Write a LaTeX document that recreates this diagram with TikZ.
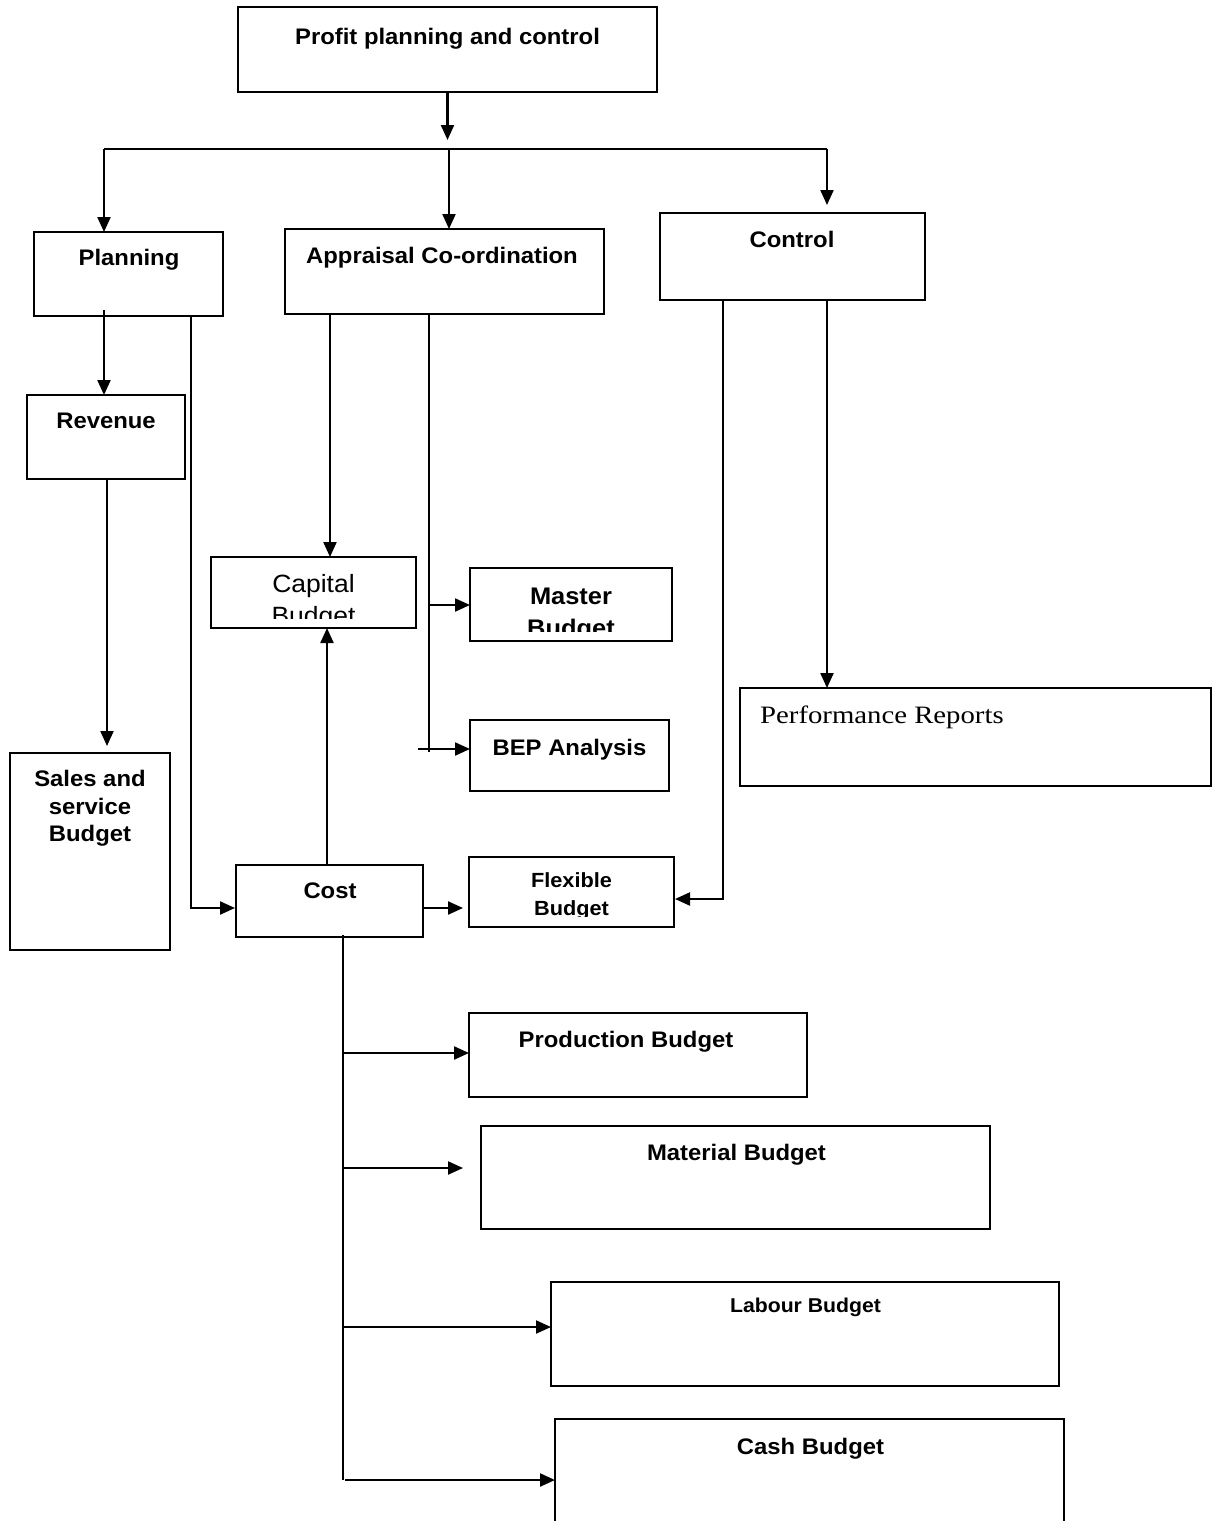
\documentclass[tikz,border=0pt]{standalone}
\usepackage{fontspec}
\setmainfont{Liberation Sans}[FakeStretch=1.06]
\newfontfamily\timesf{Liberation Serif}[FakeStretch=1.15]
\usetikzlibrary{arrows.meta,fit}
\begin{document}
\begin{tikzpicture}[x=1pt,y=-1pt,
  box/.style={draw,line width=2.2pt,inner sep=0pt,outer sep=0pt,rectangle},
  lbl/.style={anchor=base,inner sep=0pt,font=\fontsize{22.5}{27}\selectfont\bfseries},
  lblsmall/.style={anchor=base,inner sep=0pt,font=\fontsize{20}{24}\selectfont\bfseries},
  lblmid/.style={anchor=base,inner sep=0pt,font=\fontsize{20.5}{24}\selectfont\bfseries},
  lblbig/.style={anchor=base,inner sep=0pt,font=\fontsize{24}{28}\selectfont\bfseries},
  lblreg/.style={anchor=base,inner sep=0pt,font=\fontsize{25}{30}\selectfont},
  conn/.style={line width=2.2pt},
  arr/.style={line width=2.2pt,-{Triangle[length=15pt,width=13pt]}}]
\useasboundingbox (0,0) rectangle (1219,1521);

% boxes
\node[box,fit={(238,7) (657,92)}] (top) {};
\node[box,fit={(34,232) (223,316)}] (plan) {};
\node[box,fit={(285,229) (604,314)}] (appr) {};
\node[box,fit={(660,213) (925,300)}] (ctrl) {};
\node[box,fit={(27,395) (185,479)}] (rev) {};
\node[box,fit={(211,557) (416,628)}] (cap) {};
\node[box,fit={(470,568) (672,641)}] (mas) {};
\node[box,fit={(470,720) (669,791)}] (bep) {};
\node[box,fit={(740,688) (1211,786)}] (perf) {};
\node[box,fit={(10,753) (170,950)}] (sales) {};
\node[box,fit={(236,865) (423,937)}] (cost) {};
\node[box,fit={(469,857) (674,927)}] (flex) {};
\node[box,fit={(469,1013) (807,1097)}] (prod) {};
\node[box,fit={(481,1126) (990,1229)}] (mat) {};
\node[box,fit={(551,1282) (1059,1386)}] (lab) {};
\node[box,fit={(555,1419) (1064,1540)}] (cash) {};

% labels
\node[lbl] (topT) at (447.5,44) {Profit planning and control};
\node[lbl] (planT) at (129,265) {Planning};
\node[lbl] (apprT) at (442,263) {Appraisal Co-ordination};
\node[lbl] (ctrlT) at (792,247) {Control};
\node[lbl] (revT) at (106,428) {Revenue};
\node[lblreg] (capT) at (313.5,592) {Capital};
\begin{scope}
  \clip (211,557) rectangle (416,618);
  \node[lblreg] (capT2) at (313.5,624) {Budget};
\end{scope}
\node[lblbig] (masT) at (571,604) {Master};
\begin{scope}
  \clip (470,568) rectangle (672,631);
  \node[lblbig] (masT2) at (571,636) {Budget};
\end{scope}
\node[lbl] (bepT) at (569.5,755) {BEP Analysis};
\node[anchor=base west,inner sep=0pt,font=\timesf\fontsize{25}{29}\selectfont] (perfT) at (760,723) {Performance Reports};
\node[lbl] (salesT1) at (90,786) {Sales and};
\node[lbl] (salesT2) at (90,814) {service};
\node[lbl] (salesT3) at (90,841) {Budget};
\node[lbl] (costT) at (330,898) {Cost};
\node[lblmid] (flexT) at (571.5,887) {Flexible};
\begin{scope}
  \clip (469,857) rectangle (674,916);
  \node[lblmid] (flexT2) at (571.5,915) {Budget};
\end{scope}
\node[lbl] (prodT) at (626,1047) {Production Budget};
\node[lbl] (matT) at (736.5,1160) {Material Budget};
\node[lblsmall] (labT) at (805.5,1312) {Labour Budget};
\node[lbl] (cashT) at (810.5,1454) {Cash Budget};

% coordinates
\coordinate (j0) at (447.5,140);
\coordinate (bL) at (104,149);
\coordinate (bM) at (449,149);
\coordinate (bR) at (827,149);
\coordinate (ctlIn) at (827,205);
\coordinate (p1) at (104,310);
\coordinate (r1) at (107,479);
\coordinate (r2) at (107,746);
\coordinate (p2) at (191,316);
\coordinate (costIn) at (235,908);
\coordinate (a1) at (330,314);
\coordinate (c1) at (327,865);
\coordinate (a2) at (429,314);
\coordinate (a2e) at (429,752);
\coordinate (m1) at (429,605);
\coordinate (b1) at (418,749);
\coordinate (k1) at (723,300);
\coordinate (flexIn) at (675,899);
\coordinate (k2) at (827,300);
\coordinate (cf) at (463,908);
\coordinate (s0) at (343,935);
\coordinate (s1) at (343,1480);
\coordinate (sp) at (343,1053);
\coordinate (sm) at (343,1168);
\coordinate (smEnd) at (463,1168);
\coordinate (sl) at (343,1327);
\coordinate (sc) at (345,1480);

% connectors
\draw[arr] (top.south) -- (j0);
\draw[conn] (bL) -- (bR);
\draw[arr] (bL) -- (bL |- plan.north);
\draw[arr] (bM) -- (bM |- appr.north);
\draw[arr] (bR) -- (ctlIn);
\draw[arr] (p1) -- (p1 |- rev.north);
\draw[arr] (r1) -- (r2);
\draw[arr] (p2) |- (costIn);
\draw[arr] (a1) -- (a1 |- cap.north);
\draw[arr] (c1) -- (c1 |- cap.south);
\draw[conn] (a2) -- (a2e);
\draw[arr] (m1) -- (m1 -| mas.west);
\draw[arr] (b1) -- (b1 -| bep.west);
\draw[arr] (k1) |- (flexIn);
\draw[arr] (k2) -- (k2 |- perf.north);
\draw[arr] (cost.east |- cf) -- (cf);
\draw[conn] (s0) -- (s1);
\draw[arr] (sp) -- (sp -| prod.west);
\draw[arr] (sm) -- (smEnd);
\draw[arr] (sl) -- (sl -| lab.west);
\draw[arr] (sc) -- (sc -| cash.west);
\end{tikzpicture}
\end{document}
